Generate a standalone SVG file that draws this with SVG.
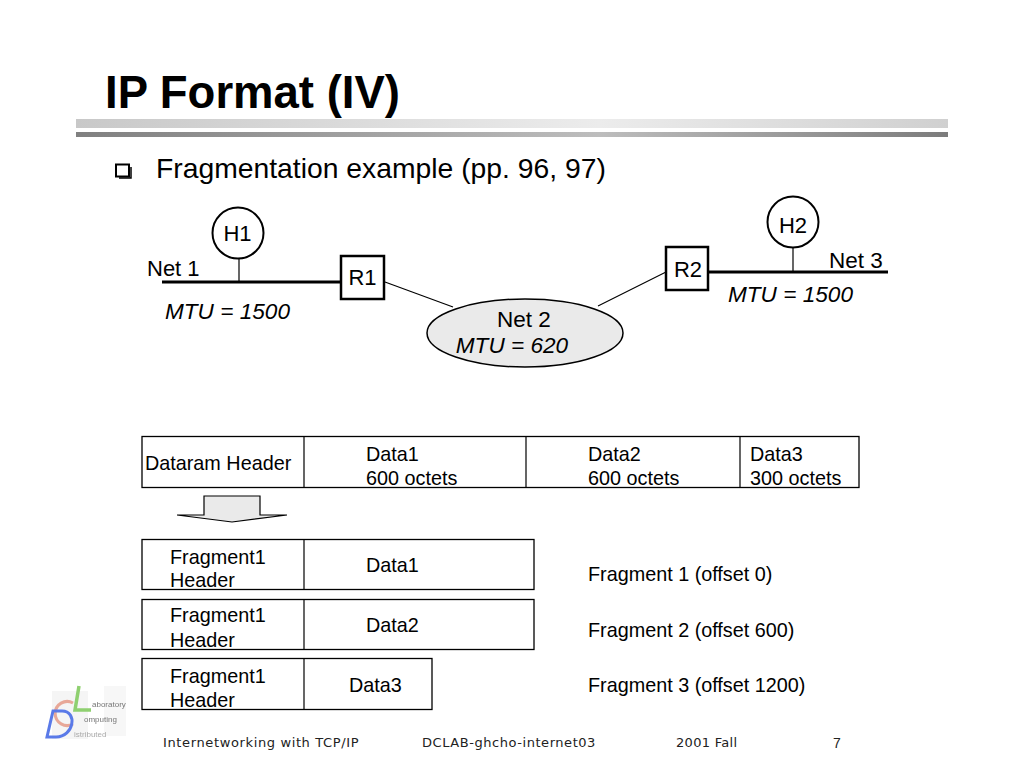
<svg xmlns="http://www.w3.org/2000/svg" width="1024" height="768" viewBox="0 0 1024 768">
<style>
text{font-family:"Liberation Sans",Arial,sans-serif;fill:#000}
.t{font-size:19.800px}
.l{font-size:22px}
.m{font-size:22.600px;font-style:italic}
.n{font-size:22.500px}
.f{font-family:"DejaVu Sans",sans-serif;font-size:13px;fill:#222}
.lg{font-size:8px;fill:#777}
.b{fill:#fff;stroke:#000;stroke-width:2}
.w{fill:#fff;stroke:#000;stroke-width:2.500}
.x{fill:#fff;stroke:#000;stroke-width:1.300}
.c{stroke:#000;fill:none;stroke-width:1.200}
</style>
<defs>
<linearGradient id="g1" x1="0" x2="1" y1="0" y2="0"><stop offset="0" stop-color="#c8c8c8"/><stop offset="0.6" stop-color="#ececec"/><stop offset="1" stop-color="#d0d0d0"/></linearGradient>
<linearGradient id="g2" x1="0" x2="1" y1="0" y2="0"><stop offset="0" stop-color="#808080"/><stop offset="0.6" stop-color="#bdbdbd"/><stop offset="1" stop-color="#7c7c7c"/></linearGradient>
<filter id="soft" x="-10%" y="-10%" width="120%" height="120%"><feGaussianBlur stdDeviation="0.600"/></filter>
</defs>
<rect width="1024" height="768" fill="#fff"/>
<g id="header">
<text x="105" y="108" font-weight="bold" style="font-size:45.500px">IP Format (IV)</text>
<rect x="76" y="119" width="872" height="9" fill="url(#g1)"/>
<rect x="76" y="132" width="872" height="5" fill="url(#g2)"/>
<rect x="116" y="164.500" width="13" height="12" fill="#fff" stroke="#000" stroke-width="2"/>
<path d="M131 167V178H119" fill="none" stroke="#000" stroke-width="1.500"/>
<text x="156" y="178" style="font-size:28.300px">Fragmentation example (pp. 96, 97)</text>
</g>
<g id="connectors">
<line class="c" x1="239" y1="258" x2="239" y2="282"/>
<line x1="162" y1="282" x2="342" y2="282" stroke="#000" stroke-width="3"/>
<line class="c" x1="385" y1="282" x2="453" y2="307"/>
<line class="c" x1="598" y1="306" x2="666" y2="272"/>
<line x1="708" y1="272" x2="888" y2="272" stroke="#000" stroke-width="3"/>
<line class="c" x1="793" y1="248" x2="793" y2="272"/>
</g>
<g id="H1"><circle class="b" cx="238" cy="233" r="25.500"/><text class="l" x="237.500" y="241" text-anchor="middle">H1</text></g>
<g id="H2"><circle class="b" cx="793" cy="222" r="25.500"/><text class="l" x="793" y="233" text-anchor="middle">H2</text></g>
<g id="R1"><rect class="w" x="341" y="256" width="43" height="43"/><text class="l" x="362.500" y="285" text-anchor="middle">R1</text></g>
<g id="R2"><rect class="w" x="666" y="247" width="42" height="43"/><text class="l" x="688" y="277" text-anchor="middle">R2</text></g>
<g id="Net2"><ellipse cx="525" cy="333" rx="98" ry="34" fill="#eaeaea" stroke="#000" stroke-width="1.500"/>
<text class="n" x="524" y="327" text-anchor="middle">Net 2</text><text class="m" x="512" y="353" text-anchor="middle">MTU = 620</text></g>
<g id="labels">
<text class="l" x="147" y="276">Net 1</text>
<text class="m" x="165" y="319">MTU = 1500</text>
<text class="n" x="829" y="268">Net 3</text>
<text class="m" x="728" y="302">MTU = 1500</text>
</g>
<g id="datagram">
<rect class="x" x="142" y="436.500" width="717" height="51"/>
<path class="c" d="M304 436V487M526 436V487M740 436V487"/>
<text class="t" x="145" y="470">Dataram Header</text>
<text class="t" x="366" y="461">Data1</text><text class="t" x="366" y="485">600 octets</text>
<text class="t" x="588" y="461">Data2</text><text class="t" x="588" y="485">600 octets</text>
<text class="t" x="750" y="461">Data3</text><text class="t" x="750" y="485">300 octets</text>
</g>
<g id="arrow"><path d="M204 496H260V515H287L232 522L177 515H204Z" fill="#eaeaea" stroke="#000" stroke-width="1.200"/></g>
<g id="fragment1">
<rect class="x" x="142" y="539.500" width="392" height="50"/><path class="c" d="M304 539V589"/>
<text class="t" x="170" y="564">Fragment1</text><text class="t" x="170" y="587">Header</text>
<text class="t" x="366" y="572">Data1</text>
<text class="t" x="588" y="581">Fragment 1 (offset 0)</text>
</g>
<g id="fragment2">
<rect class="x" x="142" y="599.500" width="392" height="50"/><path class="c" d="M304 599V649"/>
<text class="t" x="170" y="622">Fragment1</text><text class="t" x="170" y="647">Header</text>
<text class="t" x="366" y="632">Data2</text>
<text class="t" x="588" y="637">Fragment 2 (offset 600)</text>
</g>
<g id="fragment3">
<rect class="x" x="142" y="658.500" width="290" height="51"/><path class="c" d="M304 658V709"/>
<text class="t" x="170" y="683">Fragment1</text><text class="t" x="170" y="707">Header</text>
<text class="t" x="349" y="692">Data3</text>
<text class="t" x="588" y="692">Fragment 3 (offset 1200)</text>
</g>
<g id="logo" filter="url(#soft)">
<rect x="52" y="691" width="36" height="48" fill="#f5f5f5"/>
<rect x="104" y="686" width="22" height="50" fill="#f7f7f7"/>
<path d="M79 686L75 710H91" fill="none" stroke="#8fd070" stroke-width="3.500"/>
<path d="M73 703A12 12 0 1 0 73 724" fill="none" stroke="#e8a898" stroke-width="3"/>
<path d="M53 711H62C78 711 74 737 56 737H47Z" fill="none" stroke="#5a7ae8" stroke-width="3"/>
<text class="lg" x="92" y="707">aboratory</text>
<text class="lg" x="84" y="722">omputing</text>
<text class="lg" x="74" y="737" style="fill:#aaa">istributed</text>
</g>
<g id="footer">
<text class="f" x="163" y="747" style="letter-spacing:.63px">Internetworking with TCP/IP</text>
<text class="f" x="422" y="747" style="letter-spacing:.55px">DCLAB-ghcho-internet03</text>
<text class="f" x="676" y="747" style="letter-spacing:.3px">2001 Fall</text>
<text class="f" x="833" y="748" style="font-family:'Liberation Sans',sans-serif;font-size:14px">7</text>
</g>
</svg>
